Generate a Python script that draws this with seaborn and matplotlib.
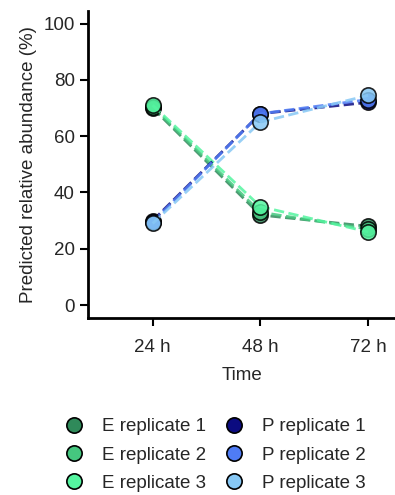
import pandas as pd
import matplotlib
matplotlib.use("Agg")
import matplotlib.pyplot as plt
import seaborn as sns

times = ["24 h", "48 h", "72 h"]
series_names = ["E replicate 1", "E replicate 2", "E replicate 3",
                "P replicate 1", "P replicate 2", "P replicate 3"]
e_rep1 = [70.0, 32.0, 28.0]
e_rep2 = [70.5, 33.0, 27.0]
e_rep3 = [71.0, 35.0, 26.0]
p_rep1 = [30.0, 68.0, 72.0]
p_rep2 = [29.5, 68.0, 73.0]
p_rep3 = [29.0, 65.0, 74.5]
colors = ["#2f8a5a", "#45c77f", "#55f5a0", "#0b0b80", "#4f7cf5", "#87c8f5"]

sns.set_theme(style="ticks")
plt.rcParams["font.family"] = ["Liberation Sans", "DejaVu Sans"]

rows = []
for name, vals in zip(series_names, [e_rep1, e_rep2, e_rep3, p_rep1, p_rep2, p_rep3]):
    for t, v in zip(times, vals):
        rows.append({"Time": t, "value": v, "series": name})
df = pd.DataFrame(rows)

fig = plt.figure(figsize=(3.95, 4.95), dpi=100)
ax = fig.add_axes([0.223, 0.358, 0.777, 0.62])

sns.lineplot(data=df, x="Time", y="value", hue="series", hue_order=series_names,
             palette=colors, marker="o", markersize=11, markeredgecolor="black",
             markeredgewidth=1.2, linestyle="--", linewidth=2, alpha=0.85,
             legend=False, ax=ax)

ax.set_xlim(-0.6, 2.25)
ax.set_ylim(-4.5, 104.5)
ax.set_yticks([0, 20, 40, 60, 80, 100])
ax.set_xlabel("Time", fontsize=13.5, labelpad=8)
ax.set_ylabel("Predicted relative abundance (%)", fontsize=13.5, labelpad=5)
ax.tick_params(labelsize=13.5, width=1.5, length=6, color="black")
ax.tick_params(axis="x", pad=9)
for s in ["left", "bottom"]:
    ax.spines[s].set_linewidth(2)
    ax.spines[s].set_color("black")
sns.despine(ax=ax)

handles = [plt.Line2D([], [], marker="o", linestyle="", markersize=11,
                      markerfacecolor=c, markeredgecolor="black", markeredgewidth=1.2)
           for c in colors]
fig.legend(handles, series_names, ncol=2, frameon=False, fontsize=13.5,
           loc="lower center", bbox_to_anchor=(0.545, -0.028),
           handlelength=1.0, handletextpad=1.0, columnspacing=1.0, labelspacing=0.6)

fig.savefig("out.png", dpi=100)
